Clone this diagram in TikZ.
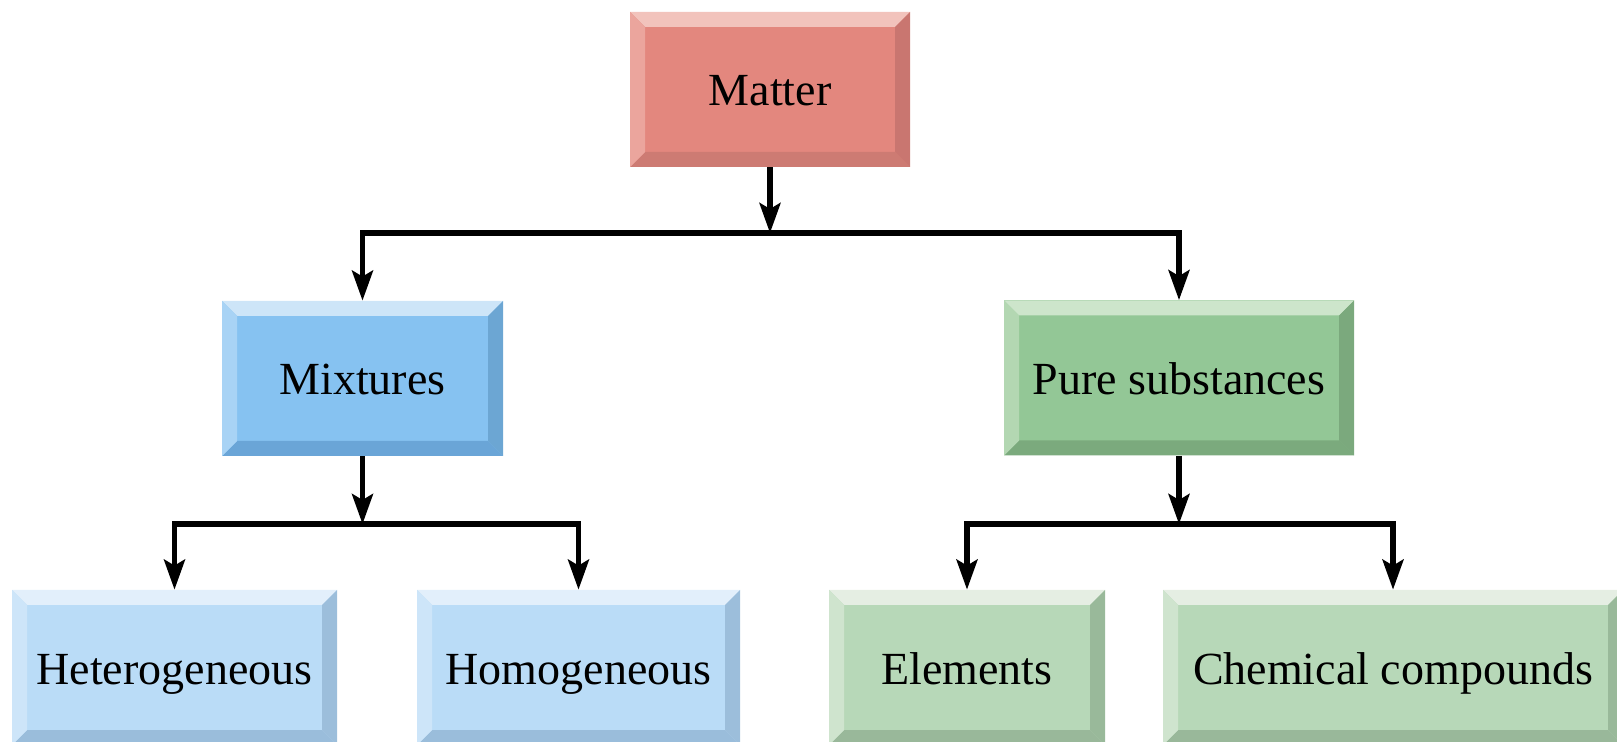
\documentclass[tikz,border=0pt]{standalone}
\usepackage{fontspec}
\setmainfont{Liberation Serif}
\usetikzlibrary{arrows.meta}
\definecolor{rface}{HTML}{E3877E}\definecolor{rtop}{HTML}{F2C3BC}\definecolor{rleft}{HTML}{EBA59D}\definecolor{rright}{HTML}{C97670}\definecolor{rbottom}{HTML}{CD7B73}
\definecolor{bface}{HTML}{86C2F1}\definecolor{btop}{HTML}{CDE5F8}\definecolor{bleft}{HTML}{A8D3F5}\definecolor{bright}{HTML}{6CA6D3}\definecolor{bbottom}{HTML}{6AA5D7}
\definecolor{lbface}{HTML}{BADCF7}\definecolor{lbtop}{HTML}{E2EFFB}\definecolor{lbleft}{HTML}{CDE5F9}\definecolor{lbright}{HTML}{9CBEDB}\definecolor{lbbottom}{HTML}{9ABDDB}
\definecolor{gface}{HTML}{93C796}\definecolor{gtop}{HTML}{CDE5CB}\definecolor{gleft}{HTML}{B3D7B2}\definecolor{gright}{HTML}{7BA97D}\definecolor{gbottom}{HTML}{7BAA7D}
\definecolor{lgface}{HTML}{B7D8B8}\definecolor{lgtop}{HTML}{E5EEE3}\definecolor{lgleft}{HTML}{CFE4CE}\definecolor{lgright}{HTML}{99B99A}\definecolor{lgbottom}{HTML}{99B89A}
\tikzset{
  bevbox/.style={draw=none, fill=#1face, minimum height=77.5pt, inner sep=0pt,
    text height=20pt, text depth=3.5pt,
    font=\fontsize{23}{27}\selectfont, text=black,
    path picture={
      \def\bb{path picture bounding box}
      \fill[#1top] (\bb.north west) -- (\bb.north east) -- ([shift={(-7.5pt,-7.5pt)}]\bb.north east) -- ([shift={(7.5pt,-7.5pt)}]\bb.north west) -- cycle;
      \fill[#1bottom] (\bb.south west) -- (\bb.south east) -- ([shift={(-7.5pt,7.5pt)}]\bb.south east) -- ([shift={(7.5pt,7.5pt)}]\bb.south west) -- cycle;
      \fill[#1left] (\bb.north west) -- ([shift={(7.5pt,-7.5pt)}]\bb.north west) -- ([shift={(7.5pt,7.5pt)}]\bb.south west) -- (\bb.south west) -- cycle;
      \fill[#1right] (\bb.north east) -- ([shift={(-7.5pt,-7.5pt)}]\bb.north east) -- ([shift={(-7.5pt,7.5pt)}]\bb.south east) -- (\bb.south east) -- cycle;
    }},
  conn/.style={line width=2.6pt, line join=miter, -{Stealth[length=15pt,width=10.5pt,inset=3pt]}}
}
\begin{document}
\begin{tikzpicture}[x=0.5pt,y=-0.5pt]
\useasboundingbox (0,0) rectangle (1617,742);
\node[bevbox=r, minimum width=140pt] (matter) at (770,89.5) {Matter};
\node[bevbox=b, minimum width=140.5pt] (mix) at (362.5,378.5) {Mixtures};
\node[bevbox=g, minimum width=175pt] (pure) at (1179,378) {Pure substances};
\node[bevbox=lb, minimum width=162.5pt] (het) at (174.5,667.5) {Heterogeneous};
\node[bevbox=lb, minimum width=161.5pt] (hom) at (578.5,667.5) {Homogeneous};
\node[bevbox=lg, minimum width=138pt] (ele) at (967,667.5) {Elements};
\node[bevbox=lg, minimum width=230pt] (comp) at (1393,667.5) {Chemical compounds};
\coordinate (j1) at (770,233);
\coordinate (j2) at (362.5,524);
\coordinate (j3) at (1179,524);
\draw[conn] (matter.south) -- (j1);
\draw[conn] (j1) -| (mix.north);
\draw[conn] (j1) -| (pure.north);
\draw[conn] (mix.south) -- (j2);
\draw[conn] (j2) -| (het.north);
\draw[conn] (j2) -| (hom.north);
\draw[conn] (pure.south) -- (j3);
\draw[conn] (j3) -| (ele.north);
\draw[conn] (j3) -| (comp.north);
\end{tikzpicture}
\end{document}
